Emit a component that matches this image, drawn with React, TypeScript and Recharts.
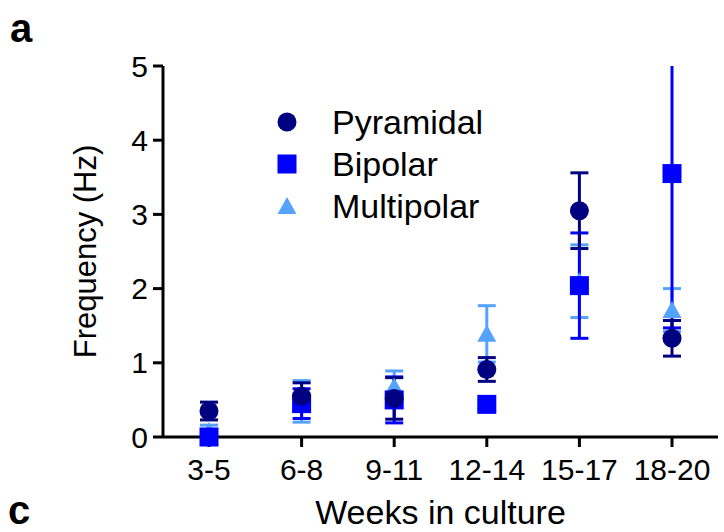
import React from "react";
import { ComposedChart, Scatter, XAxis, YAxis, ErrorBar, Label } from "recharts";

const weeks = ["3-5", "6-8", "9-11", "12-14", "15-17", "18-20"];
const yTicks = [0, 1, 2, 3, 4, 5];

const pyramidalMean = [0.35, 0.55, 0.52, 0.91, 3.05, 1.33];
const pyramidalSem = [0.12, 0.18, 0.28, 0.16, 0.51, 0.24];
const bipolarMean = [0.0, 0.45, 0.5, 0.44, 2.04, 3.55];
const bipolarSem = [0.0, 0.2, 0.31, 0.05, 0.71, 2.08];
const multipolarMean = [0.08, 0.48, 0.68, 1.39, 2.1, 1.71];
const multipolarSem = [0.08, 0.28, 0.21, 0.38, 0.49, 0.29];

const NAVY = "#000080";
const BLUE = "#0000ff";
const LIGHT = "#55a3ff";
const FONT = "'Liberation Sans', Arial, sans-serif";

const yMax = yTicks[yTicks.length - 1];
// bars that run past the top of the axis are drawn without a cap
const capped = (m: number, e: number) => [Math.min(e, m), m + e > yMax ? 0 : e];
const open = (m: number, e: number) => [0, m + e > yMax ? yMax - m : 0];

const data = weeks.map((week, i) => ({
  week,
  pyr: pyramidalMean[i],
  pyrErr: capped(pyramidalMean[i], pyramidalSem[i]),
  bip: bipolarMean[i],
  bipErr: capped(bipolarMean[i], bipolarSem[i]),
  bipOpen: open(bipolarMean[i], bipolarSem[i]),
  mul: multipolarMean[i],
  mulErr: capped(multipolarMean[i], multipolarSem[i]),
}));

const circle = (color: string) => (p: any) => <circle cx={p.cx} cy={p.cy} r={9.5} fill={color} />;
const square = (color: string) => (p: any) => (
  <rect x={p.cx - 9.5} y={p.cy - 9.5} width={19} height={19} fill={color} />
);
const triangle = (color: string) => (p: any) => (
  <polygon
    points={`${p.cx},${p.cy - 9} ${p.cx - 9.5},${p.cy + 8} ${p.cx + 9.5},${p.cy + 8}`}
    fill={color}
  />
);

const legendItems = [
  { name: "Pyramidal", color: NAVY, shape: "circle" },
  { name: "Bipolar", color: BLUE, shape: "square" },
  { name: "Multipolar", color: LIGHT, shape: "triangle" },
];

function LegendIcon({ shape, color }: { shape: string; color: string }) {
  return (
    <svg width={30} height={30}>
      {shape === "circle" && <circle cx={15} cy={15} r={9.5} fill={color} />}
      {shape === "square" && <rect x={5.5} y={5.5} width={19} height={19} fill={color} />}
      {shape === "triangle" && <polygon points="15,6 5.5,23 24.5,23" fill={color} />}
    </svg>
  );
}

export default function App() {
  const axisStroke = { stroke: "#000", strokeWidth: 3 };
  return (
    <div style={{ position: "absolute", left: 0, top: 0, width: 724, height: 532, background: "#fff", fontFamily: FONT }}>
      <ComposedChart width={724} height={532} data={data} margin={{ top: 66, right: 6, left: 0, bottom: 0 }}>
        <XAxis
          dataKey="week"
          height={95}
          padding={{ left: 46, right: 46 }}
          tickSize={10}
          tickMargin={12}
          axisLine={axisStroke}
          tickLine={axisStroke}
          tick={{ fontSize: 30, fill: "#000", fontFamily: FONT }}
          interval={0}
        >
          <Label value="Weeks in culture" position="insideBottom" offset={8} style={{ fontSize: 34, fill: "#000", fontFamily: FONT }} />
        </XAxis>
        <YAxis
          width={163}
          domain={[0, yMax]}
          ticks={yTicks}
          interval={0}
          tickSize={10}
          tickMargin={5}
          axisLine={axisStroke}
          tickLine={axisStroke}
          tick={{ fontSize: 30, fill: "#000", fontFamily: FONT }}
        >
          <Label
            value="Frequency (Hz)"
            angle={-90}
            position="insideLeft"
            offset={85}
            style={{ textAnchor: "middle", fontSize: 31, fill: "#000", fontFamily: FONT }}
          />
        </YAxis>
        <Scatter dataKey="mul" name="Multipolar" shape={triangle(LIGHT)} isAnimationActive={false}>
          <ErrorBar dataKey="mulErr" direction="y" width={9} stroke={LIGHT} strokeWidth={3} />
        </Scatter>
        <Scatter dataKey="bip" name="Bipolar" shape={square(BLUE)} isAnimationActive={false}>
          <ErrorBar dataKey="bipErr" direction="y" width={9} stroke={BLUE} strokeWidth={3} />
          <ErrorBar dataKey="bipOpen" direction="y" width={0} stroke={BLUE} strokeWidth={3} />
        </Scatter>
        <Scatter dataKey="pyr" name="Pyramidal" shape={circle(NAVY)} isAnimationActive={false}>
          <ErrorBar dataKey="pyrErr" direction="y" width={9} stroke={NAVY} strokeWidth={3} />
        </Scatter>
      </ComposedChart>

      <div style={{ position: "absolute", left: 272, top: 101, display: "flex", flexDirection: "column" }}>
        {legendItems.map((it) => (
          <div key={it.name} style={{ display: "flex", alignItems: "center", height: 42 }}>
            <LegendIcon shape={it.shape} color={it.color} />
            <span style={{ marginLeft: 30, fontSize: 34, lineHeight: "42px", color: "#000" }}>{it.name}</span>
          </div>
        ))}
      </div>

      <span style={{ position: "absolute", left: 10, top: 8, fontSize: 40, lineHeight: "40px", fontWeight: "bold" }}>a</span>
      <span style={{ position: "absolute", left: 8, top: 490, fontSize: 40, lineHeight: "40px", fontWeight: "bold" }}>c</span>
    </div>
  );
}
